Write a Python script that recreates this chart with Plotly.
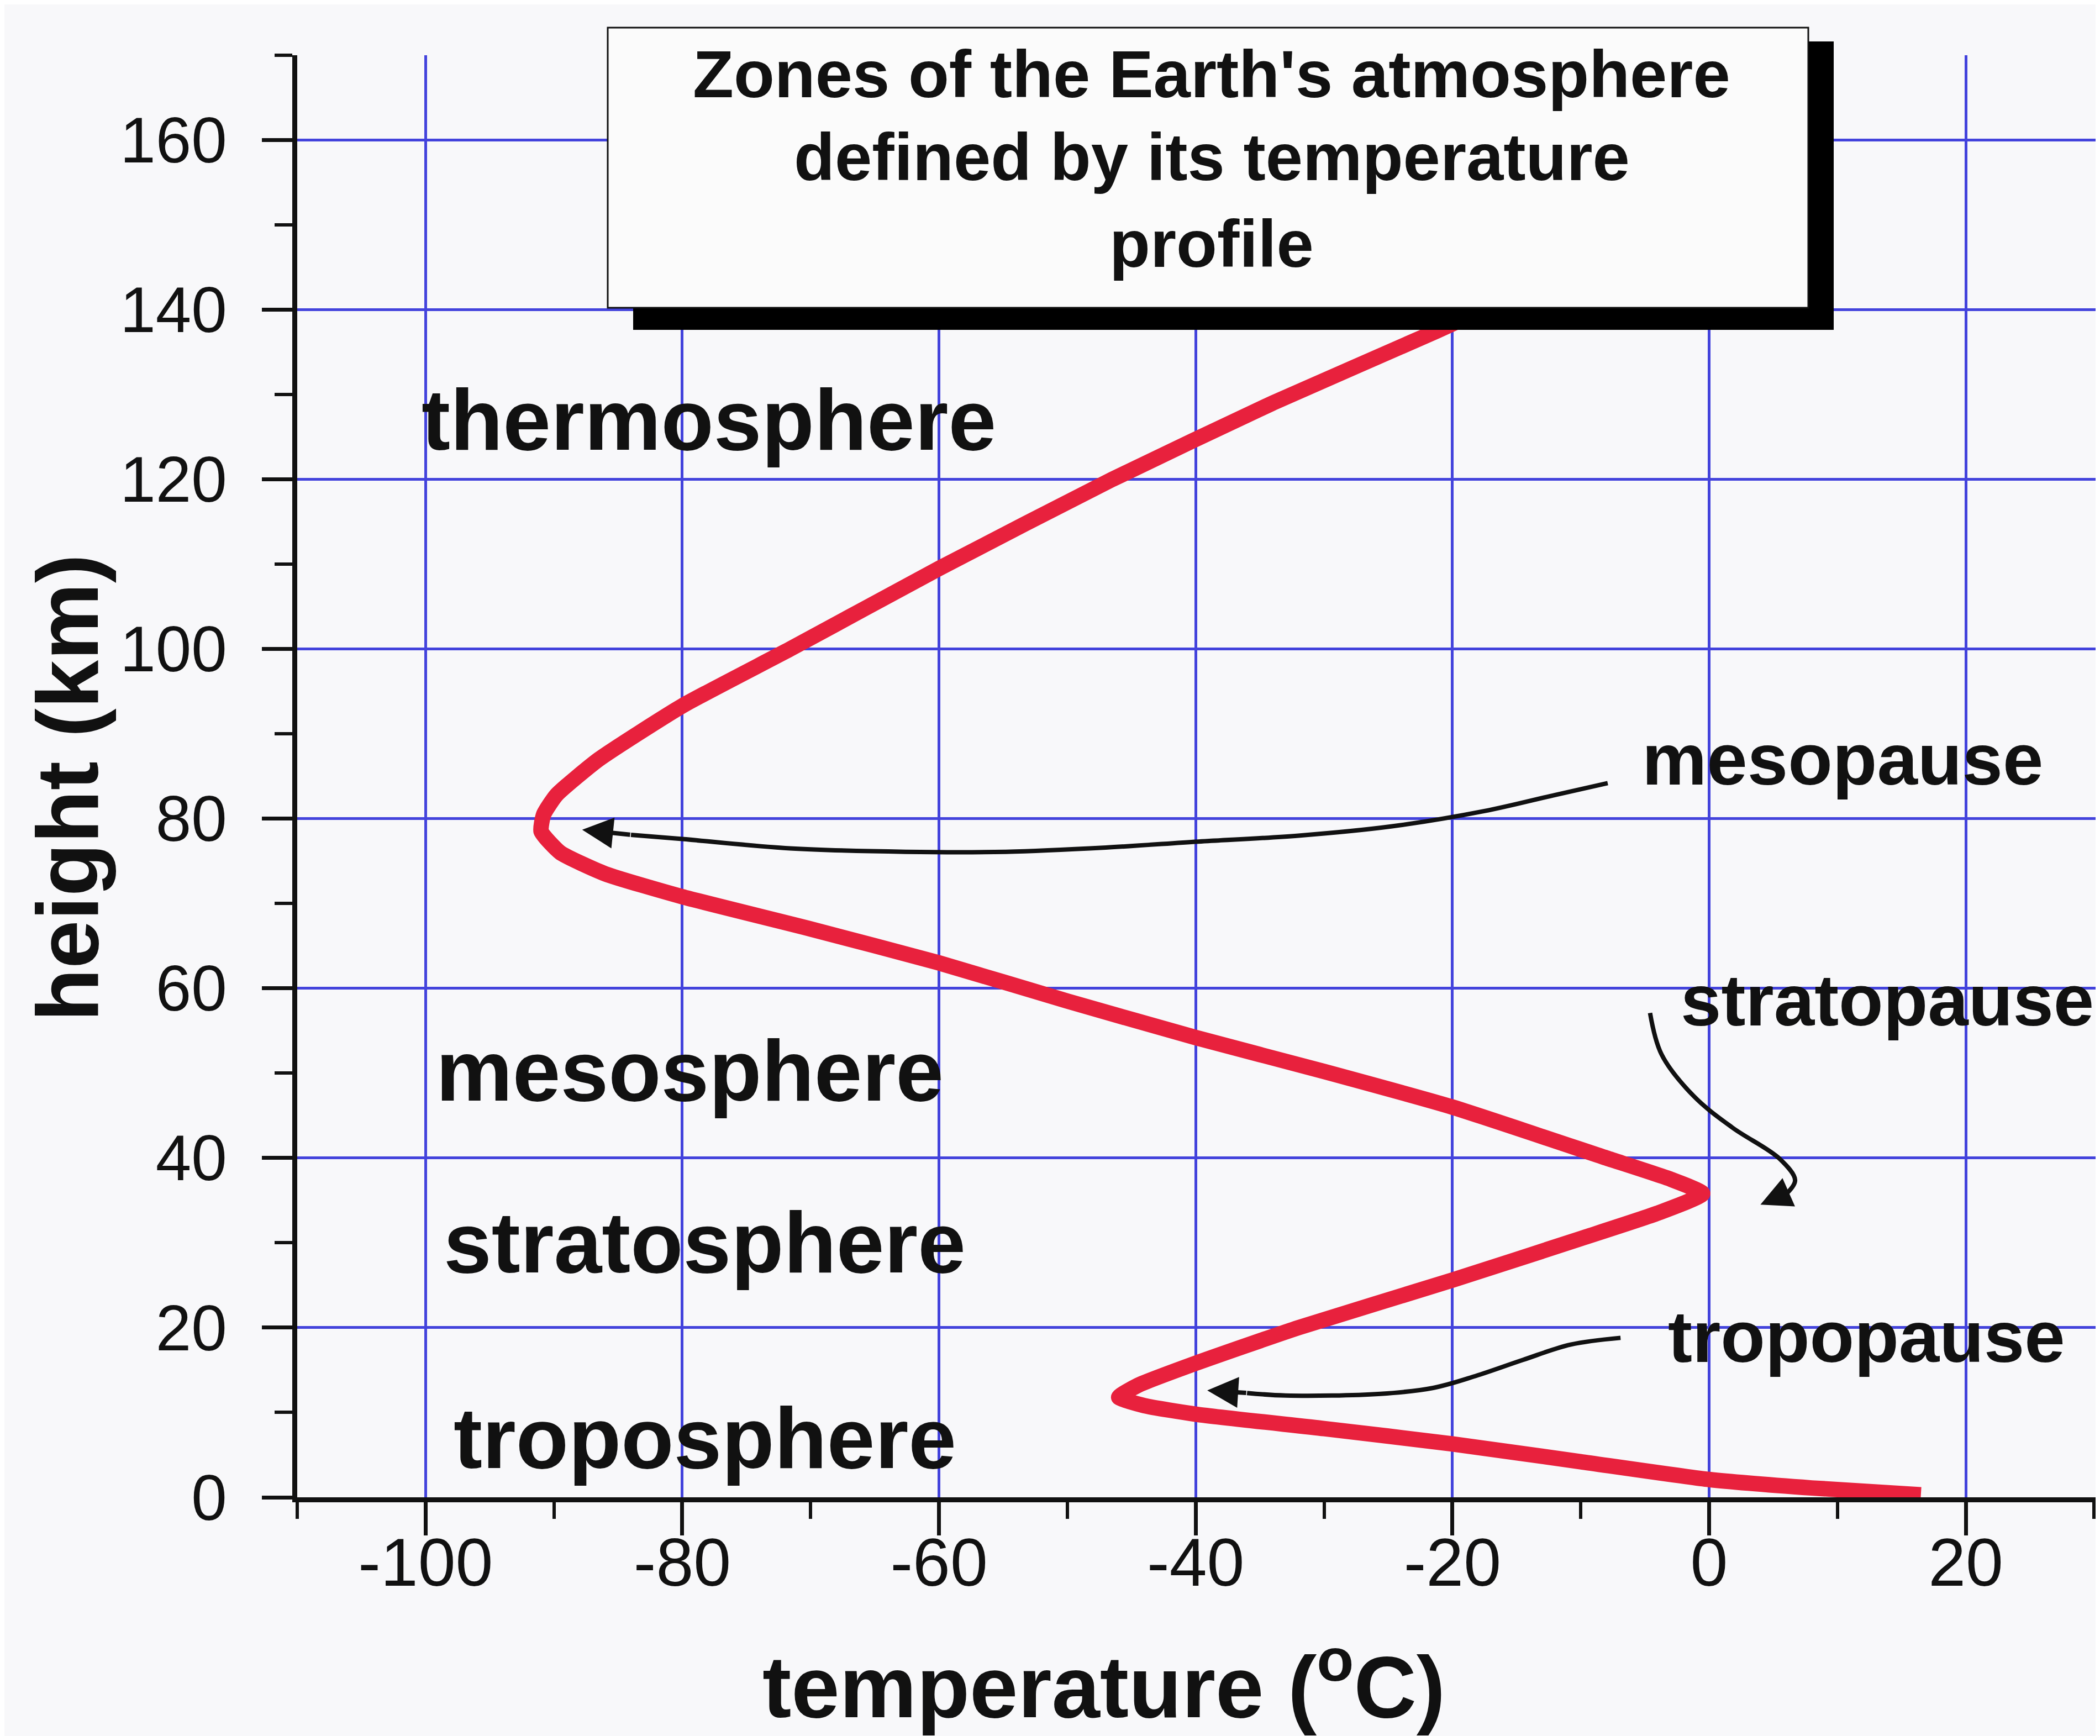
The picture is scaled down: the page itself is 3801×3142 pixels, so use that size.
import plotly.graph_objects as go

# ---------------- data ----------------
temp_profile = [16.5, 8, 0, -10, -20, -30, -40, -44, -46,
                -44.5, -40, -32, -20, -10, -4, -0.5,
                -3, -8, -20, -30, -40, -50, -60, -70, -80, -86, -89.5, -91,
                -90.8, -89.8, -86.5, -80, -71.6, -60, -46.5, -34, -21.2, -14]
height_profile = [0.3, 1.1, 2.1, 4.2, 6.3, 8.1, 9.8, 10.8, 11.8,
                  13.2, 15.8, 20, 25.6, 30.5, 33.5, 35.8,
                  37.5, 40, 46, 50.2, 54.2, 58.5, 63, 67, 70.8, 73.5, 76, 78.5,
                  80.5, 82.8, 87, 93.3, 100, 109.5, 120, 129, 137.5, 142.5]

x_ticks = [-100, -80, -60, -40, -20, 0, 20]
y_ticks = [0, 20, 40, 60, 80, 100, 120, 140, 160]

zone_names = ["thermosphere", "mesosphere", "stratosphere", "troposphere"]
zone_T = [-100.4, -99.3, -98.7, -97.9]
zone_h = [127.0, 50.3, 30.0, 7.0]

pause_names = ["mesopause", "stratopause", "tropopause"]
pause_T = [-5.3, -2.3, -3.3]
pause_h = [87.0, 58.6, 18.9]

meso_arrow_T = [-7.9, -12, -17.5, -24.7, -32, -39.8, -47, -54.8, -62.6, -71.6, -80, -84]
meso_arrow_h = [84.2, 82.8, 80.9, 79.1, 78.0, 77.3, 76.6, 76.1, 76.1, 76.5, 77.6, 78.1]
meso_tip = (-87.8, 78.7)

strat_arrow_T = [-4.6, -3.7, -1.2, 1.8, 5.5, 6.7, 6.1]
strat_arrow_h = [57.1, 52.2, 47.3, 43.6, 39.9, 37.4, 35.9]
strat_tip = (4.0, 34.5)

tropo_arrow_T = [-6.9, -10.8, -14.5, -18.2, -21.5, -25.6, -33, -36]
tropo_arrow_h = [18.8, 18.0, 16.2, 14.3, 12.9, 12.2, 12.0, 12.3]
tropo_tip = (-39.1, 12.6)

title_lines = ["Zones of the Earth's atmosphere", "defined by its temperature", "profile"]

# ---------------- layout geometry (pixels) ----------------
W_IMG, H_IMG = 3801, 3142
L, R, T, B = 530, 3801, 92, 2702
PW, PH = R - L, B - T

def px(xp):
    return (xp - L) / PW

def py(yp):
    return (B - yp) / PH

FONT = "Liberation Sans, Arial, sans-serif"
GRID = "#4343dc"
RED = "#e8213d"
INK = "#111111"

fig = go.Figure()

fig.add_trace(go.Scatter(x=temp_profile, y=height_profile, mode="lines",
                         line=dict(color=RED, width=28, shape="spline", smoothing=0.5),
                         hoverinfo="skip", showlegend=False))

for xs, ys in [(meso_arrow_T, meso_arrow_h), (strat_arrow_T, strat_arrow_h),
               (tropo_arrow_T, tropo_arrow_h)]:
    fig.add_trace(go.Scatter(x=xs, y=ys, mode="lines",
                             line=dict(color=INK, width=8, shape="spline"),
                             hoverinfo="skip", showlegend=False))

annotations = []
for tip, xs, ys in [(meso_tip, meso_arrow_T, meso_arrow_h),
                    (strat_tip, strat_arrow_T, strat_arrow_h),
                    (tropo_tip, tropo_arrow_T, tropo_arrow_h)]:
    annotations.append(dict(x=tip[0], y=tip[1], ax=xs[-1], ay=ys[-1],
                            xref="x", yref="y", axref="x", ayref="y",
                            text="", showarrow=True, arrowhead=2, arrowsize=1.4,
                            arrowwidth=8, arrowcolor=INK, standoff=0, startstandoff=0))

for name, t, h in zip(zone_names, zone_T, zone_h):
    annotations.append(dict(x=t, y=h, xref="x", yref="y", text=name, showarrow=False,
                            xanchor="left", yanchor="middle",
                            font=dict(family=FONT, size=156, color=INK, weight="bold")))

for name, t, h in zip(pause_names, pause_T, pause_h):
    annotations.append(dict(x=t, y=h, xref="x", yref="y", text=name, showarrow=False,
                            xanchor="left", yanchor="middle",
                            font=dict(family=FONT, size=132, color=INK, weight="bold")))

title_baselines = [167, 317, 474]
for line, base in zip(title_lines, title_baselines):
    annotations.append(dict(x=px(2185), y=py(base - 41), xref="paper", yref="paper",
                            text=line, showarrow=False, xanchor="center", yanchor="middle",
                            font=dict(family=FONT, size=121, color=INK, weight="bold")))

annotations.append(dict(x=px(1990), y=py(3034), xref="paper", yref="paper",
                        text="temperature (<sup>o</sup>C)", showarrow=False,
                        xanchor="center", yanchor="middle",
                        font=dict(family=FONT, size=157, color=INK, weight="bold")))
annotations.append(dict(x=px(114), y=py(1418), xref="paper", yref="paper",
                        text="height (km)", showarrow=False, textangle=-90,
                        xanchor="center", yanchor="middle",
                        font=dict(family=FONT, size=157, color=INK, weight="bold")))

shapes = [
    dict(type="rect", xref="paper", yref="paper", x0=px(1138), x1=px(3311),
         y0=py(589), y1=py(67), fillcolor="#000000", line=dict(width=0), layer="above"),
    dict(type="rect", xref="paper", yref="paper", x0=px(1092), x1=px(3265),
         y0=py(549), y1=py(42), fillcolor="#fbfbfb", line=dict(color=INK, width=3),
         layer="above"),
]

fig.update_layout(
    width=W_IMG, height=H_IMG,
    margin=dict(l=L, r=W_IMG - R, t=T, b=H_IMG - B, pad=0),
    paper_bgcolor="#f8f8fa", plot_bgcolor="#f8f8fa",
    showlegend=False,
    annotations=annotations,
    shapes=shapes,
    xaxis=dict(range=[-110, 30.8], tickvals=x_ticks, ticktext=[str(v) for v in x_ticks],
               showgrid=True, gridcolor=GRID, gridwidth=5, zeroline=False,
               showline=True, linecolor=INK, linewidth=9,
               ticks="outside", ticklen=60, tickwidth=7, tickcolor=INK,
               tickfont=dict(family=FONT, size=122, color=INK), ticklabelstandoff=-55,
               minor=dict(dtick=10, tick0=0, ticks="outside", ticklen=30, tickwidth=6,
                          tickcolor=INK, showgrid=False),
               fixedrange=True),
    yaxis=dict(range=[0, 170], tickvals=y_ticks, ticktext=[str(v) for v in y_ticks],
               showgrid=True, gridcolor=GRID, gridwidth=5, zeroline=False,
               showline=True, linecolor=INK, linewidth=9,
               ticks="outside", ticklen=55, tickwidth=7, tickcolor=INK,
               tickfont=dict(family=FONT, size=116, color=INK), ticklabelstandoff=40,
               minor=dict(dtick=10, tick0=0, ticks="outside", ticklen=32, tickwidth=6,
                          tickcolor=INK, showgrid=False),
               fixedrange=True),
)

fig.write_html("out.html")
